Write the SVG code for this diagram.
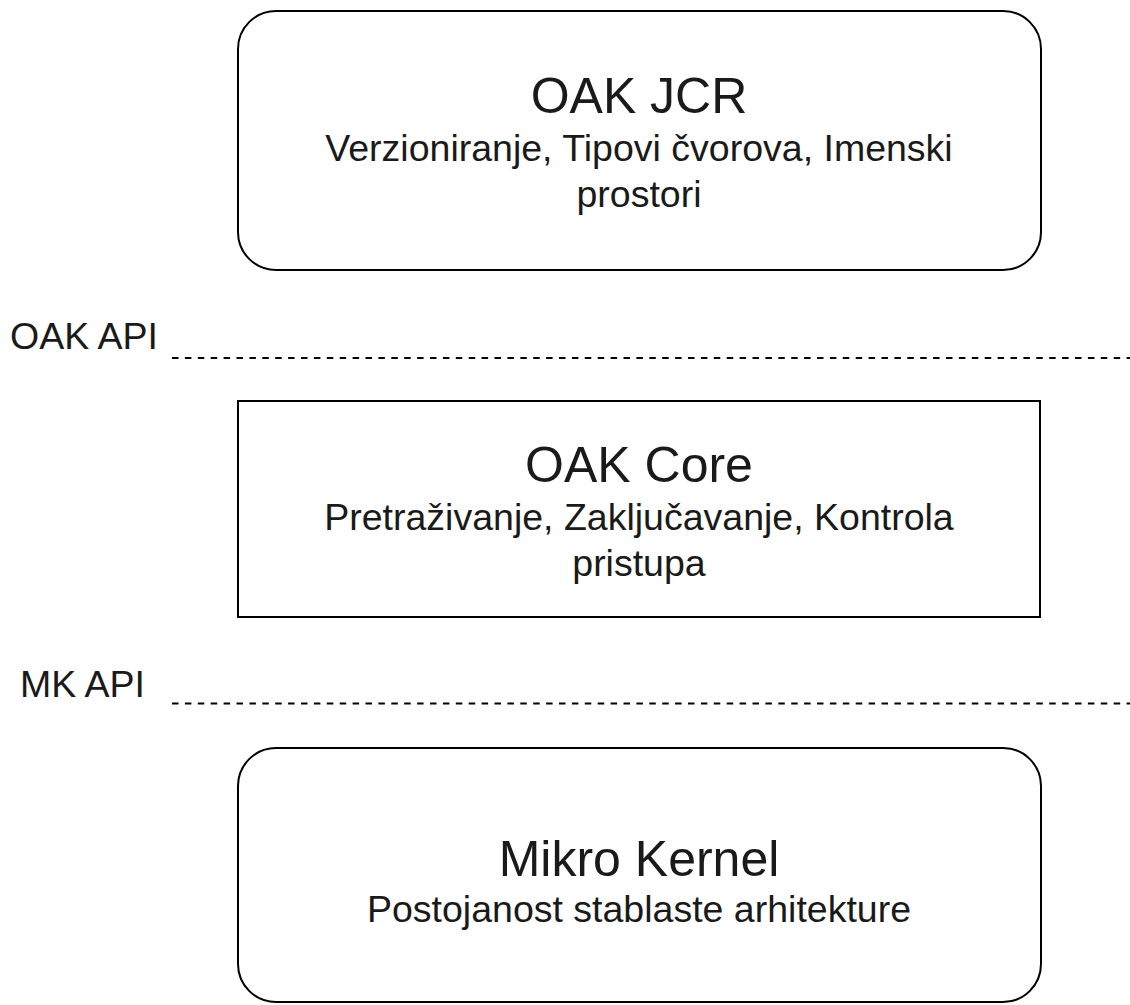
<svg xmlns="http://www.w3.org/2000/svg" width="1130" height="1005" viewBox="0 0 1130 1005">
<style>
.box{fill:#fff;stroke:#000;stroke-width:2}
.t{font-family:"Liberation Sans",Arial,sans-serif;fill:#1a1a1a;text-anchor:middle}
.title{font-size:50px}
.sub{font-size:37.5px}
.lbl{font-family:"Liberation Sans",Arial,sans-serif;fill:#1a1a1a;font-size:37.5px}
.api{stroke:#000;stroke-width:2;stroke-dasharray:6.5 6.4;fill:none}
</style>
<rect width="1130" height="1005" fill="#fff"/>
<g id="connectors">
<line class="api" x1="172" y1="358" x2="1130" y2="358"/>
<line class="api" x1="172" y1="703.5" x2="1130" y2="703.5"/>
</g>
<g id="label-oak-api"><text class="lbl" x="10" y="349">OAK API</text></g>
<g id="label-mk-api"><text class="lbl" x="20" y="697">MK API</text></g>
<g id="oak-jcr">
<rect class="box" x="238" y="11" width="803" height="259" rx="38" ry="38"/>
<text class="t title" x="639" y="113">OAK JCR</text>
<text class="t sub" x="639" y="161">Verzioniranje, Tipovi čvorova, Imenski</text>
<text class="t sub" x="639" y="207">prostori</text>
</g>
<g id="oak-core">
<rect class="box" x="238" y="401" width="802" height="216"/>
<text class="t title" x="639" y="482">OAK Core</text>
<text class="t sub" x="639" y="530">Pretraživanje, Zaključavanje, Kontrola</text>
<text class="t sub" x="639" y="576">pristupa</text>
</g>
<g id="mikro-kernel">
<rect class="box" x="238" y="748" width="803" height="254" rx="38" ry="38"/>
<text class="t title" x="639" y="876">Mikro Kernel</text>
<text class="t sub" x="639" y="922">Postojanost stablaste arhitekture</text>
</g>
</svg>
